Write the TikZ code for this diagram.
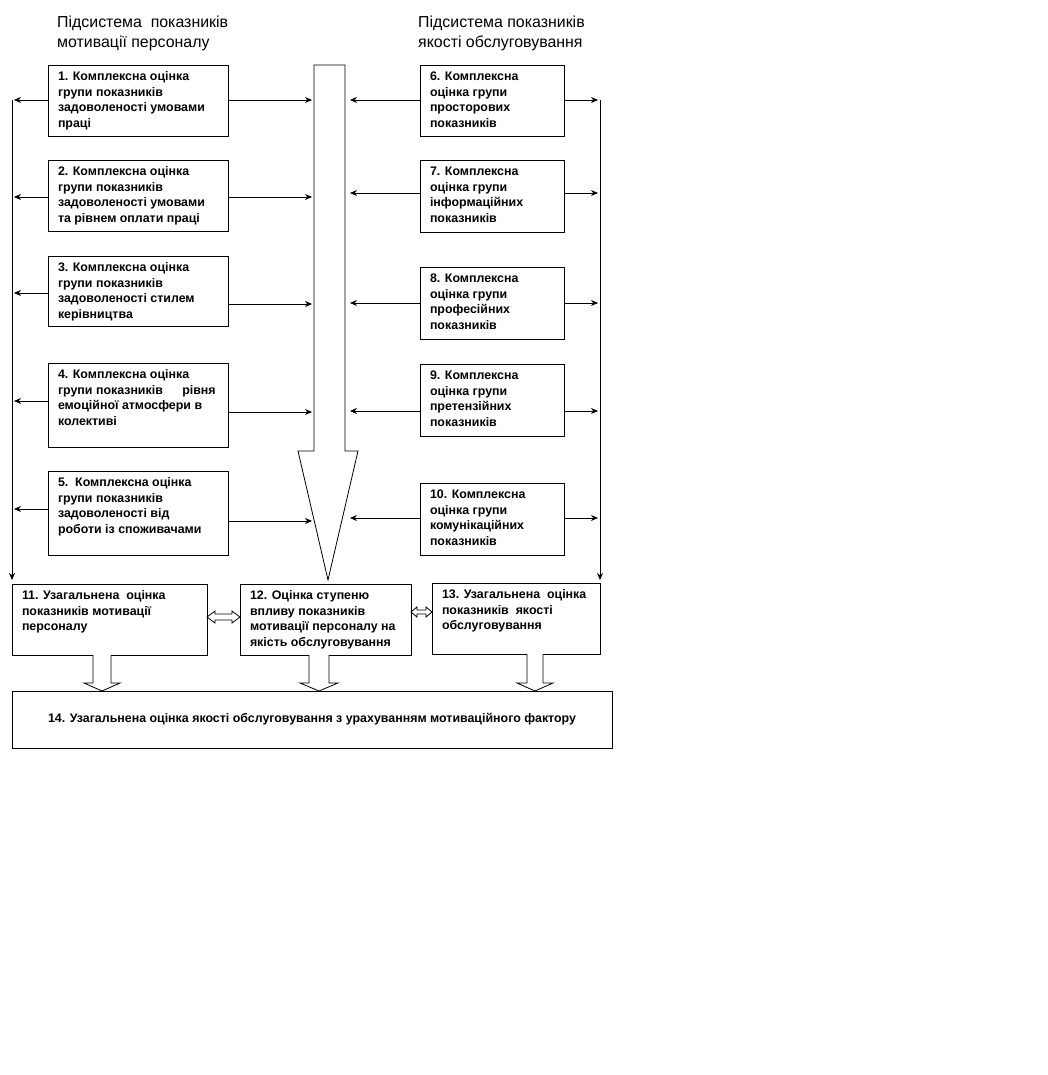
\documentclass[tikz,border=0pt]{standalone}
\usepackage{fontspec}
\setmainfont{Liberation Sans}
\usetikzlibrary{arrows.meta}
\newcommand{\bxt}[3]{\parbox[t][\dimexpr#2pt-14pt\relax][t]{\dimexpr#1pt-20pt\relax}{\raggedright #3}}
\begin{document}
\begin{tikzpicture}[x=1pt,y=-1pt,
  box/.style={draw, line width=0.8pt, inner xsep=10pt, inner ysep=7pt, outer sep=0pt,
    anchor=north west, fill=white, font=\fontsize{12.4}{15.5}\selectfont\bfseries},
  head/.style={anchor=north west, inner sep=0pt, align=left, font=\fontsize{15.9}{20}\selectfont},
  arr/.style={line width=0.8pt, -{Stealth[length=7pt,width=6pt]}},
  blockarrow/.style={line width=0.8pt, fill=white, line join=miter}]
\useasboundingbox (0,0) rectangle (1048,1075);

% headers
\node[head] (h1) at (57,16) {Підсистема\ \ показників\\мотивації персоналу};
\node[head] (h2) at (418,16) {Підсистема показників\\якості обслуговування};

% big arrow
\draw[blockarrow] (314,65) -- (345,65) -- (345,451) -- (358,451) -- (328,580)
  -- (298,451) -- (314,451) -- cycle;

% left boxes
\node[box] (b1) at (48,65) {\bxt{180}{71}{1. Комплексна оцінка\\групи показників\\задоволеності умовами\\праці}};
\node[box] (b2) at (48,160) {\bxt{180}{71}{2. Комплексна оцінка\\групи показників\\задоволеності умовами\\та рівнем оплати праці}};
\node[box] (b3) at (48,256) {\bxt{180}{70}{3. Комплексна оцінка\\групи показників\\задоволеності стилем\\керівництва}};
\node[box] (b4) at (48,363) {\bxt{180}{84}{4. Комплексна оцінка\\групи показників\hspace{16pt} рівня\\емоційної атмосфери в\\колективі}};
\node[box] (b5) at (48,471) {\bxt{180}{84}{5.\ \ Комплексна оцінка\\групи показників\\задоволеності від\\роботи із споживачами}};

% right boxes
\node[box] (b6) at (420,65) {\bxt{144}{71}{6. Комплексна\\оцінка групи\\просторових\\показників}};
\node[box] (b7) at (420,160) {\bxt{144}{72}{7. Комплексна\\оцінка групи\\інформаційних\\показників}};
\node[box] (b8) at (420,267) {\bxt{144}{72}{8. Комплексна\\оцінка групи\\професійних\\показників}};
\node[box] (b9) at (420,364) {\bxt{144}{72}{9. Комплексна\\оцінка групи\\претензійних\\показників}};
\node[box] (b10) at (420,483) {\bxt{144}{72}{10. Комплексна\\оцінка групи\\комунікаційних\\показників}};

% bottom boxes
\node[box] (b11) at (12,584) {\bxt{195}{71}{11. Узагальнена\ \ оцінка\\показників мотивації\\персоналу}};
\node[box] (b12) at (240,584) {\bxt{171}{71}{12. Оцінка ступеню\\впливу показників\\мотивації персоналу на\\якість обслуговування}};
\node[box] (b13) at (432,583) {\bxt{168}{71}{13. Узагальнена\ \ оцінка\\показників\ \ якості\\обслуговування}};
\node[draw, line width=0.8pt, anchor=north west, minimum width=600, minimum height=57,
  inner sep=0pt, outer sep=0pt, font=\fontsize{12.4}{15.5}\selectfont\bfseries] (b14) at (12,691)
  {14. Узагальнена оцінка якості обслуговування з урахуванням мотиваційного фактору};

% side collector lines
\coordinate (ltop) at (12,100);
\coordinate (lbot) at (12,580);
\coordinate (rtop) at (600,100);
\coordinate (rbot) at (600,580);
\draw[arr] (ltop) -- (lbot);
\draw[arr] (rtop) -- (rbot);

% left boxes -> left line
\coordinate (l1) at (14,100);
\coordinate (l2) at (14,197);
\coordinate (l3) at (14,293);
\coordinate (l4) at (14,401);
\coordinate (l5) at (14,509);
\foreach \i in {1,...,5} {\draw[arr] (b\i.west |- l\i) -- (l\i);}

% left boxes -> shaft
\coordinate (s1) at (312,100);
\coordinate (s2) at (312,197);
\coordinate (s3) at (312,304);
\coordinate (s4) at (312,412);
\coordinate (s5) at (312,521);
\foreach \i in {1,...,5} {\draw[arr] (b\i.east |- s\i) -- (s\i);}

% right boxes -> shaft and -> right line
\coordinate (t6) at (350,100);
\coordinate (t7) at (350,193);
\coordinate (t8) at (350,303);
\coordinate (t9) at (350,411);
\coordinate (t10) at (350,518);
\coordinate (r6) at (598,100);
\coordinate (r7) at (598,193);
\coordinate (r8) at (598,303);
\coordinate (r9) at (598,411);
\coordinate (r10) at (598,518);
\foreach \i in {6,...,10} {
  \draw[arr] (b\i.west |- t\i) -- (t\i);
  \draw[arr] (b\i.east |- r\i) -- (r\i);
}

% hollow double arrows between bottom boxes
\draw[blockarrow] (207,617) -- (215,611) -- (215,614) -- (232,614) -- (232,611) -- (240,617)
  -- (232,623) -- (232,620) -- (215,620) -- (215,623) -- cycle;
\draw[blockarrow] (411,612) -- (417,607) -- (417,610) -- (426,610) -- (426,607) -- (432,612)
  -- (426,617) -- (426,614) -- (417,614) -- (417,617) -- cycle;

% hollow down arrows to box 14
\draw[blockarrow] (93,655) -- (93,683) -- (84,683) -- (102,691) -- (120,683) -- (111,683) -- (111,655);
\draw[blockarrow] (309,655) -- (309,683) -- (300,683) -- (319,691) -- (338,683) -- (329,683) -- (329,655);
\draw[blockarrow] (527,654) -- (527,683) -- (517,683) -- (535,691) -- (553,683) -- (543,683) -- (543,654);
\end{tikzpicture}
\end{document}
